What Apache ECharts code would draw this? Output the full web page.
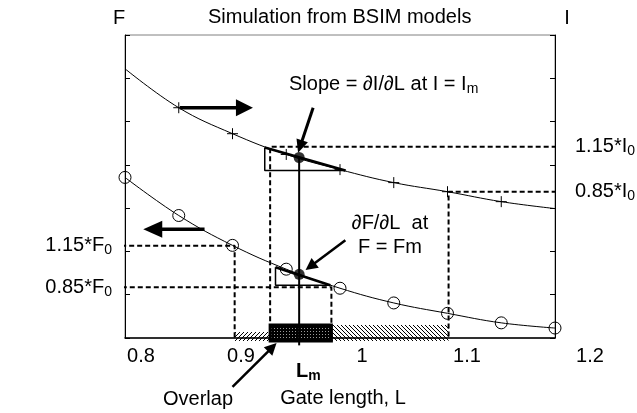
<!DOCTYPE html>
<html><head><meta charset="utf-8">
<script src="https://cdn.jsdelivr.net/npm/echarts@6.0.0/dist/echarts.min.js"></script>
<style>html,body{margin:0;padding:0;background:#fff}#c{width:637px;height:413px}</style>
</head><body><div id="c"></div>
<script>
// ---- data ----
const gateLength = [0.8, 0.85, 0.9, 0.95, 1.0, 1.05, 1.1, 1.15, 1.2];
const currentI   = [6.22, 5.32, 4.72, 4.24, 3.89, 3.59, 3.38, 3.15, 2.99];
const featureF   = [3.71, 2.83, 2.14, 1.59, 1.15, 0.81, 0.57, 0.35, 0.23];
const xTicks     = [0.8, 0.9, 1, 1.1, 1.2];
const Lm = 0.962, Im = 4.17, Fm = 1.47;
const Fhi = 2.13, Flo = 1.17, Ihi = 4.42, Ilo = 3.38;
const L_Fhi = 0.902, L_Flo = 0.992, L_Ihi = 0.935, L_Ilo = 1.101;
const Fline_start = [0.789, 0.797];
const Iline_end = 1.209;
const triI = [[0.930, 4.40], [0.930, 3.87], [1.005, 3.87]];
const triF = [[0.940, 1.635], [0.940, 1.22], [0.991, 1.22]];
const dirArrowI = [[0.851, 5.32, 0.919, 5.32]];
const dirArrowF = [[0.874, 2.51, 0.817, 2.51]];
const ptrArrowI = [[0.975, 5.32, 0.961, 4.28]];
const ptrArrowF = [[1.005, 2.26, 0.968, 1.57], [0.900, -1.13, 0.941, -0.115]];
const bandLeft  = [[L_Fhi, L_Ihi, -0.07, 0.14]];
const bandMid   = [[L_Ihi, L_Flo, -0.07, 0.30]];
const bandRight = [[L_Flo, L_Ilo, -0.07, 0.30]];

const FONT = 'Liberation Sans, Arial, sans-serif';

function hatch(dir) {
  const c = document.createElement('canvas'); c.width = 4; c.height = 4;
  const g = c.getContext('2d'); g.strokeStyle = '#000'; g.lineWidth = 1;
  g.beginPath();
  if (dir > 0) { g.moveTo(-1,5); g.lineTo(5,-1); g.moveTo(-1,1); g.lineTo(1,-1); g.moveTo(3,5); g.lineTo(5,3); }
  else { g.moveTo(-1,-1); g.lineTo(5,5); g.moveTo(-1,3); g.lineTo(1,5); g.moveTo(3,-1); g.lineTo(5,1); }
  g.stroke(); return c;
}
function dots() {
  const c = document.createElement('canvas'); c.width = 3; c.height = 3;
  const g = c.getContext('2d'); g.fillStyle = '#000'; g.fillRect(0,0,3,3);
  g.fillStyle = '#9a9a9a'; g.fillRect(1,1,1,1); return c;
}

function rectSeries(data, fill, stroke, lw) {
  return {
    type: 'custom', data, clip: false, silent: true, z: 3,
    renderItem: (p, api) => {
      const a = api.coord([api.value(0), api.value(2)]);
      const b = api.coord([api.value(1), api.value(3)]);
      return { type: 'rect', shape: { x: a[0], y: b[1], width: b[0]-a[0], height: a[1]-b[1] },
               style: { fill: fill, stroke: stroke, lineWidth: lw } };
    }
  };
}
function arrowSeries(data, yIdx, headLen, headHalf, lw) {
  return {
    type: 'custom', data, clip: false, silent: true, yAxisIndex: yIdx, z: 6,
    renderItem: (p, api) => {
      const s = api.coord([api.value(0), api.value(1)]);
      const t = api.coord([api.value(2), api.value(3)]);
      const dx = t[0]-s[0], dy = t[1]-s[1], len = Math.hypot(dx, dy);
      const ux = dx/len, uy = dy/len;
      const bx = t[0]-ux*headLen, by = t[1]-uy*headLen;
      return { type: 'group', children: [
        { type: 'line', shape: { x1: s[0], y1: s[1], x2: bx+ux*2, y2: by+uy*2 }, style: { stroke: '#000', lineWidth: lw } },
        { type: 'polygon', shape: { points: [[t[0], t[1]], [bx-uy*headHalf, by+ux*headHalf], [bx+uy*headHalf, by-ux*headHalf]] },
          style: { fill: '#000' } }
      ]};
    }
  };
}
function lineSeries(data, yIdx, opts) {
  return Object.assign({
    type: 'line', data, yAxisIndex: yIdx, clip: false, symbol: 'none', silent: true, z: 4,
    lineStyle: { color: '#000', width: 2 }
  }, opts || {});
}
const dash = { color: '#000', width: 2, type: [5, 3] };

const chart = echarts.init(document.getElementById('c'), null, { renderer: 'canvas' });
const xOffsets = [32, 17, 44, 39, 70];
const rich = {};
xOffsets.forEach((o, i) => { rich['p' + i] = { padding: [0, 0, 0, o], fontSize: 20, fontFamily: FONT, color: '#000' }; });

const sub = (t) => ({
  a: { fontSize: 20, fontFamily: FONT, lineHeight: 24, color: '#000' },
  s: { fontSize: 14, fontFamily: FONT, lineHeight: 24, padding: [10, 0, 0, 0], color: '#000' }
});
function txt(x, y, text, align, extra) {
  return { type: 'text', x, y, silent: true, z: 10,
    style: Object.assign({ text, align, verticalAlign: 'middle', fontSize: 20, fontFamily: FONT, fill: '#000', rich: sub() }, extra || {}) };
}

chart.setOption({
  animation: false,
  backgroundColor: '#fff',
  title: { text: 'Simulation from BSIM models', left: 203, top: 2,
           textStyle: { fontSize: 20, fontWeight: 'normal', fontFamily: FONT, color: '#000' } },
  grid: { left: 125, right: 82, top: 35, bottom: 75, show: true, borderColor: '#808080', borderWidth: 1 },
  xAxis: {
    type: 'value', min: 0.8, max: 1.2, interval: 0.1,
    name: 'Gate length, L', nameLocation: 'middle', nameGap: 50,
    nameTextStyle: { fontSize: 20, fontFamily: FONT, color: '#000', padding: [0, 0, 0, 6] },
    axisLine: { lineStyle: { color: '#000', width: 1.5 } },
    axisTick: { show: false }, splitLine: { show: false },
    axisLabel: { margin: 8, formatter: (v, i) => '{p' + i + '|' + xTicks[i] + '}', rich }
  },
  yAxis: [
    { type: 'value', min: 0, max: 7, interval: 1, position: 'left',
      name: 'F', nameLocation: 'end', nameGap: 7,
      nameTextStyle: { fontSize: 20, fontFamily: FONT, color: '#000', padding: [0, 12, 0, 0] },
      axisLine: { show: true, lineStyle: { color: '#000', width: 1 } },
      axisTick: { show: true, inside: true, length: 5, lineStyle: { color: '#000' } },
      axisLabel: { show: false }, splitLine: { show: false } },
    { type: 'value', min: 0, max: 7, interval: 1, position: 'right',
      name: 'I', nameLocation: 'end', nameGap: 7,
      nameTextStyle: { fontSize: 20, fontFamily: FONT, color: '#000', padding: [0, 0, 0, 24] },
      axisLine: { show: true, lineStyle: { color: '#000', width: 1 } },
      axisTick: { show: true, inside: true, length: 5, lineStyle: { color: '#000' } },
      axisLabel: { show: false }, splitLine: { show: false } }
  ],
  series: [
    // dashed guide lines
    lineSeries([[Fline_start[0], Fhi], [L_Fhi, Fhi], [L_Fhi, 0]], 0, { lineStyle: dash }),
    lineSeries([[Fline_start[1], Flo], [L_Flo, Flo], [L_Flo, 0]], 0, { lineStyle: dash }),
    lineSeries([[Iline_end, Ihi], [L_Ihi, Ihi], [L_Ihi, 0]], 1, { lineStyle: dash }),
    lineSeries([[Iline_end, Ilo], [L_Ilo, Ilo], [L_Ilo, 0]], 1, { lineStyle: dash }),
    // bands on the L axis
    rectSeries(bandLeft, { image: hatch(1), repeat: 'repeat' }, null, 0),
    rectSeries(bandRight, { image: hatch(-1), repeat: 'repeat' }, null, 0),
    rectSeries(bandMid, { image: dots(), repeat: 'repeat' }, '#000', 3),
    // curves
    { type: 'line', name: 'I', yAxisIndex: 1, smooth: 0.4, z: 5, silent: true,
      data: gateLength.map((x, i) => ({ value: [x, currentI[i]], symbol: (i === 0 || i === gateLength.length - 1) ? 'none' : 'path://M5,0L5,10M0,5L10,5' })),
      symbolSize: 11, lineStyle: { color: '#000', width: 1 },
      itemStyle: { color: '#000', borderColor: '#000', borderWidth: 1 } },
    { type: 'line', name: 'F', yAxisIndex: 0, smooth: 0.4, z: 5, silent: true,
      data: gateLength.map((x, i) => [x, featureF[i]]),
      symbol: 'circle', symbolSize: 12, lineStyle: { color: '#000', width: 1 },
      itemStyle: { color: 'rgba(0,0,0,0)', borderColor: '#000', borderWidth: 1 } },
    // vertical line at Lm
    lineSeries([[Lm, Im], [Lm, -0.17]], 1, { lineStyle: { color: '#000', width: 2 } }),
    // slope triangles
    lineSeries(triI, 1, { lineStyle: { color: '#000', width: 1.5 } }),
    lineSeries([triI[0], triI[2]], 1, { lineStyle: { color: '#000', width: 2.5 } }),
    lineSeries(triF, 0, { lineStyle: { color: '#000', width: 1.5 } }),
    lineSeries([triF[0], triF[2]], 0, { lineStyle: { color: '#000', width: 2.5 } }),
    // operating points
    { type: 'scatter', yAxisIndex: 1, data: [[Lm, Im]], symbolSize: 11, itemStyle: { color: '#000' }, z: 7, silent: true },
    { type: 'scatter', yAxisIndex: 0, data: [[Lm, Fm]], symbolSize: 11, itemStyle: { color: '#000' }, z: 7, silent: true },
    // arrows
    arrowSeries(dirArrowI, 1, 17, 8.5, 3.5),
    arrowSeries(dirArrowF, 0, 19, 8.5, 3.5),
    arrowSeries(ptrArrowI, 1, 13, 6, 3),
    arrowSeries(ptrArrowF, 0, 12, 6, 2.5)
  ],
  graphic: [
    txt(289, 84, '{a|Slope = ∂I/∂L at I = I}{s|m}', 'left'),
    txt(390, 223, '∂F/∂L  at', 'center'),
    txt(390, 247, 'F = Fm', 'center'),
    txt(112, 245, '{a|1.15*F}{s|0}', 'right'),
    txt(112, 287, '{a|0.85*F}{s|0}', 'right'),
    txt(575, 146, '{a|1.15*I}{s|0}', 'left'),
    txt(575, 191, '{a|0.85*I}{s|0}', 'left'),
    txt(163, 399, 'Overlap', 'left'),
    txt(296, 371, '{a|L}{s|m}', 'left', { rich: {
      a: { fontSize: 20, fontFamily: FONT, fontWeight: 'bold', lineHeight: 24, color: '#000' },
      s: { fontSize: 14, fontFamily: FONT, fontWeight: 'bold', lineHeight: 24, padding: [10, 0, 0, 0], color: '#000' } } })
  ]
});
</script></body></html>
